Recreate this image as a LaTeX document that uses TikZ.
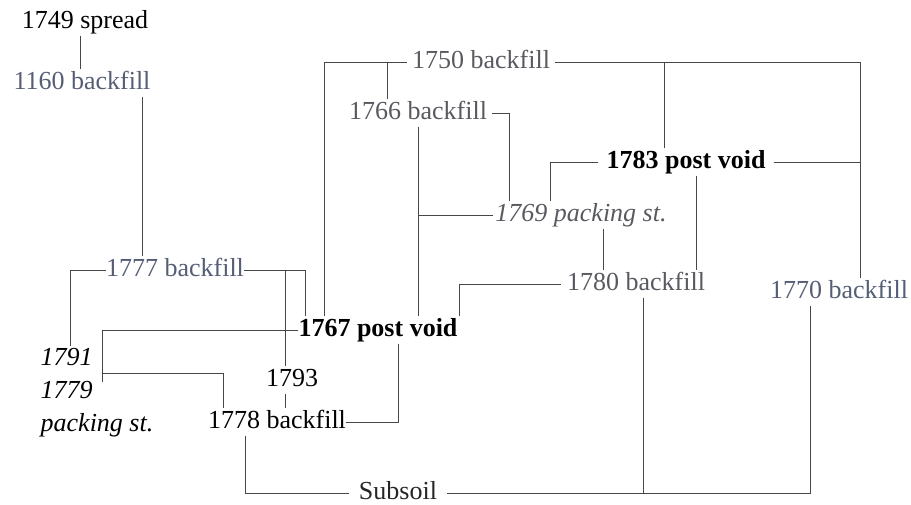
\documentclass[tikz,border=0pt]{standalone}
\usepackage{fontspec}
\setmainfont{Liberation Serif}
\usepackage{tikz}
\usetikzlibrary{calc}
\definecolor{fadegrey}{RGB}{88,90,96}
\definecolor{fadeblue}{RGB}{86,94,118}
\tikzset{unit/.style={inner sep=2pt, text height=18pt, text depth=5pt, font=\fontsize{26}{31}\selectfont}}
\tikzset{faded/.style={unit, text=fadegrey}}
\tikzset{packst/.style={faded, font=\fontsize{26}{31}\selectfont\itshape}}
\tikzset{cut/.style={unit, font=\fontsize{26}{31}\selectfont\bfseries}}
\tikzset{link/.style={draw=black!72, line width=0.9pt}}

\begin{document}
\begin{tikzpicture}[x=1pt,y=-1pt]
\useasboundingbox (0,0) rectangle (911,504);

\node[unit] (n1749) at (85,22) {1749 spread};
\node[unit, text=fadeblue] (n1160) at (82,83) {1160 backfill};
\node[faded, inner xsep=5pt] (n1750) at (481,62) {1750 backfill};
\node[faded, inner xsep=5pt] (n1766) at (418,113) {1766 backfill};
\node[cut, inner xsep=8pt] (n1783) at (686,162) {1783 post void};
\node[packst] (n1769) at (581,215) {1769 packing st.};
\node[faded, text=fadeblue, inner xsep=0pt] (n1777) at (175,270) {1777 backfill};
\node[faded, inner xsep=6pt] (n1780) at (636,284) {1780 backfill};
\node[faded, text=fadeblue] (n1770) at (839,292) {1770 backfill};
\node[cut, inner xsep=0pt] (n1767) at (378,330) {1767 post void};
\node[unit] (n1793) at (292,380) {1793};
\node[unit, inner xsep=0pt] (n1778) at (277,422) {1778 backfill};
\node[inner sep=2pt, align=left, font=\fontsize{26}{33}\selectfont\itshape] (n1791) at (97,393) {1791\\1779\\packing st.};
\node[unit, text=black!85, inner xsep=10pt] (nsub) at (398,493) {Subsoil};

% upper part
\coordinate (a1749) at ([xshift=-5pt]n1749.south);
\draw[link] (a1749) -- (a1749 |- n1160.north);
\coordinate (a1160) at ([xshift=60pt]n1160.south);
\draw[link] (a1160) -- (a1160 |- n1777.north);

\draw[link] (n1750.west) -| ([xshift=-54pt]n1767.north);
\coordinate (a1766) at ([xshift=-31pt]n1766.north);
\draw[link] (a1766) -- (a1766 |- n1750.west);
\coordinate (r1770) at ([xshift=21pt]n1770.north);
\draw[link] (n1750.east) -| (r1770);
\coordinate (a1783) at ([xshift=-22pt]n1783.north);
\draw[link] (a1783) -- (a1783 |- n1750.east);
\draw[link] (n1783.east) -- (n1783.east -| r1770);
\draw[link] (n1783.west) -| ([xshift=-31pt]n1769.north);
\coordinate (b1783) at ([xshift=10pt]n1783.south);
\draw[link] (b1783) -- (b1783 |- n1780.north);

\draw[link] (n1766.east) -| ([xshift=-72pt]n1769.north);
\draw[link] (n1766.south) -- (n1766.south |- n1767.north);
\draw[link] (n1769.west) -- (n1769.west -| n1766.south);
\coordinate (b1769) at ([xshift=22pt]n1769.south);
\draw[link] (b1769) -- (b1769 |- n1780.north);
\draw[link] (n1780.west) -| ([xshift=81pt]n1767.north);

% left part
\draw[link] (n1777.west) -| ([xshift=-27pt]n1791.north);
\draw[link] (n1777.east) -| ([xshift=-73pt]n1767.north);
\coordinate (a1793) at ([xshift=-7pt]n1793.north);
\draw[link] (a1793) -- (a1793 |- n1777.east);
\coordinate (b1793) at ([xshift=-7pt]n1793.south);
\draw[link] (b1793) -- (b1793 |- n1778.north);

\coordinate (k1791) at ([xshift=5pt,yshift=11pt]n1791.center);
\coordinate (m1791) at ([xshift=5pt,yshift=20pt]n1791.center);
\draw[link] (n1767.west) -| (k1791);
\draw[link] (m1791) -| ([xshift=-54pt]n1778.north);
\coordinate (b1767) at ([xshift=20pt]n1767.south);
\draw[link] (b1767) |- (n1778.east);

% subsoil
\coordinate (b1778) at ([xshift=-32pt]n1778.south);
\draw[link] (b1778) |- (nsub.west);
\draw[link] (nsub.east) -| ([xshift=-29pt]n1770.south);
\coordinate (b1780) at ([xshift=7pt]n1780.south);
\draw[link] (b1780) -- (b1780 |- nsub.east);
\end{tikzpicture}
\end{document}
